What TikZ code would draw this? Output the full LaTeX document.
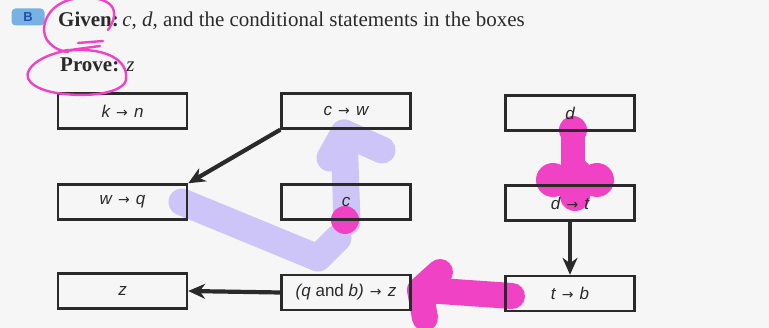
\documentclass[tikz,border=0pt]{standalone}
\usepackage{fontspec}
\setmainfont{Liberation Serif}
\newfontfamily\boxfont{Liberation Sans}
\newfontfamily\arrowfont{DejaVu Sans}
\usepackage{xcolor}
\usetikzlibrary{arrows.meta,positioning}

\definecolor{boxline}{HTML}{2A2A2A}
\definecolor{paper}{HTML}{F6F6F6}
\definecolor{lavender}{RGB}{205,196,248}
\definecolor{marker}{RGB}{240,66,196}
\definecolor{badge}{RGB}{120,178,228}
\definecolor{badgetext}{RGB}{30,80,170}

\tikzset{
  stmt/.style={draw=boxline,line width=2.4pt,minimum width=129pt,minimum height=35pt,
    inner sep=0pt,text=boxline,font=\boxfont\fontsize{17}{19}\selectfont\itshape},
  link/.style={-{Stealth[length=17pt,width=15pt]},line width=4.2pt,draw=boxline},
  hl/.style={line width=27pt,line cap=round,line join=round,draw=lavender},
  pk/.style={line width=26pt,line cap=round,line join=round,draw=marker},
  pen/.style={draw=marker,line width=2.4pt,line cap=round}
}
\newcommand{\imp}{\hspace{0.36em}{\arrowfont\upshape\fontsize{14}{15}\selectfont →}\hspace{0.36em}}

\begin{document}
\begin{tikzpicture}[x=1pt,y=-1pt]
\useasboundingbox (0,0) rectangle (769,328);
\fill[paper] (0,0) rectangle (769,328);

% marker strokes (under the print)
\draw[hl] (182,202) -- (318,258) -- (338,238);
\draw[hl] (347,222) -- (344,133) -- (382,150);
\draw[hl] (344,133) -- (330,158);
\fill[marker] (345,220) circle (14);
\fill[marker] (573,130) circle (14);
\draw[pk,line width=24pt] (573,130) -- (573,170);
\fill[marker] (553,180) circle (17);
\fill[marker] (597,180) circle (17);
\fill[marker] (575,196) circle (15);
\fill[marker] (575,176) circle (18);
\draw[pk] (440,272) -- (420,290) -- (425,318);
\draw[pk] (425,290) -- (512,296);

% heading
\node[fill=badge,rounded corners=4pt,minimum width=33pt,minimum height=17pt,inner sep=0pt,
  text=badgetext,font=\boxfont\bfseries\fontsize{13}{14}\selectfont] (badge) at (28,17) {B};
\node[anchor=base west,inner sep=0pt,text=boxline,font=\fontsize{21}{23}\selectfont] (given) at (58,27)
  {\textbf{Given:}\,\textit{c}, \textit{d}, and the conditional statements in the boxes};
\node[anchor=base west,inner sep=0pt,text=boxline,font=\fontsize{21}{23}\selectfont] (prove) at (60,72)
  {\textbf{Prove:} \textit{z}};

% boxes
\node[stmt] (kn) at (122.5,111) {k\imp n};
\node[stmt] (cw) at (346,111) {c\imp w};
\node[stmt] (d) at (570,113) {d};
\node[stmt] (wq) at (122.5,202) {w\imp q};
\node[stmt] (c) at (346,202) {c};
\node[stmt] (dt) at (570,203) {d\imp t};
\node[stmt] (z) at (122.5,291) {z};
\node[stmt] (qbz) at (346,292.5) {(q \textup{and} b)\imp z};
\node[stmt] (tb) at (570,293.5) {t\imp b};

\draw[link] (cw.south west) -- (wq.north east);
\draw[link] (qbz.west) -- (z.east);
\draw[link] (dt.south) -- (tb.north);

% pen loops
\draw[pen] (108,30) .. controls (122,10) and (112,-4) .. (80,-2)
  .. controls (50,0) and (38,25) .. (47,40) .. controls (53,48) and (60,51) .. (68,52);
\draw[pen] (65,51) .. controls (105,46) and (129,60) .. (126,80)
  .. controls (123,93) and (90,97) .. (65,94) .. controls (40,92) and (22,82) .. (29,70)
  .. controls (35,60) and (50,54) .. (68,50);
\draw[pen] (78,43) -- (103,41);
\draw[pen] (63,51) -- (100,46);
\end{tikzpicture}
\end{document}
